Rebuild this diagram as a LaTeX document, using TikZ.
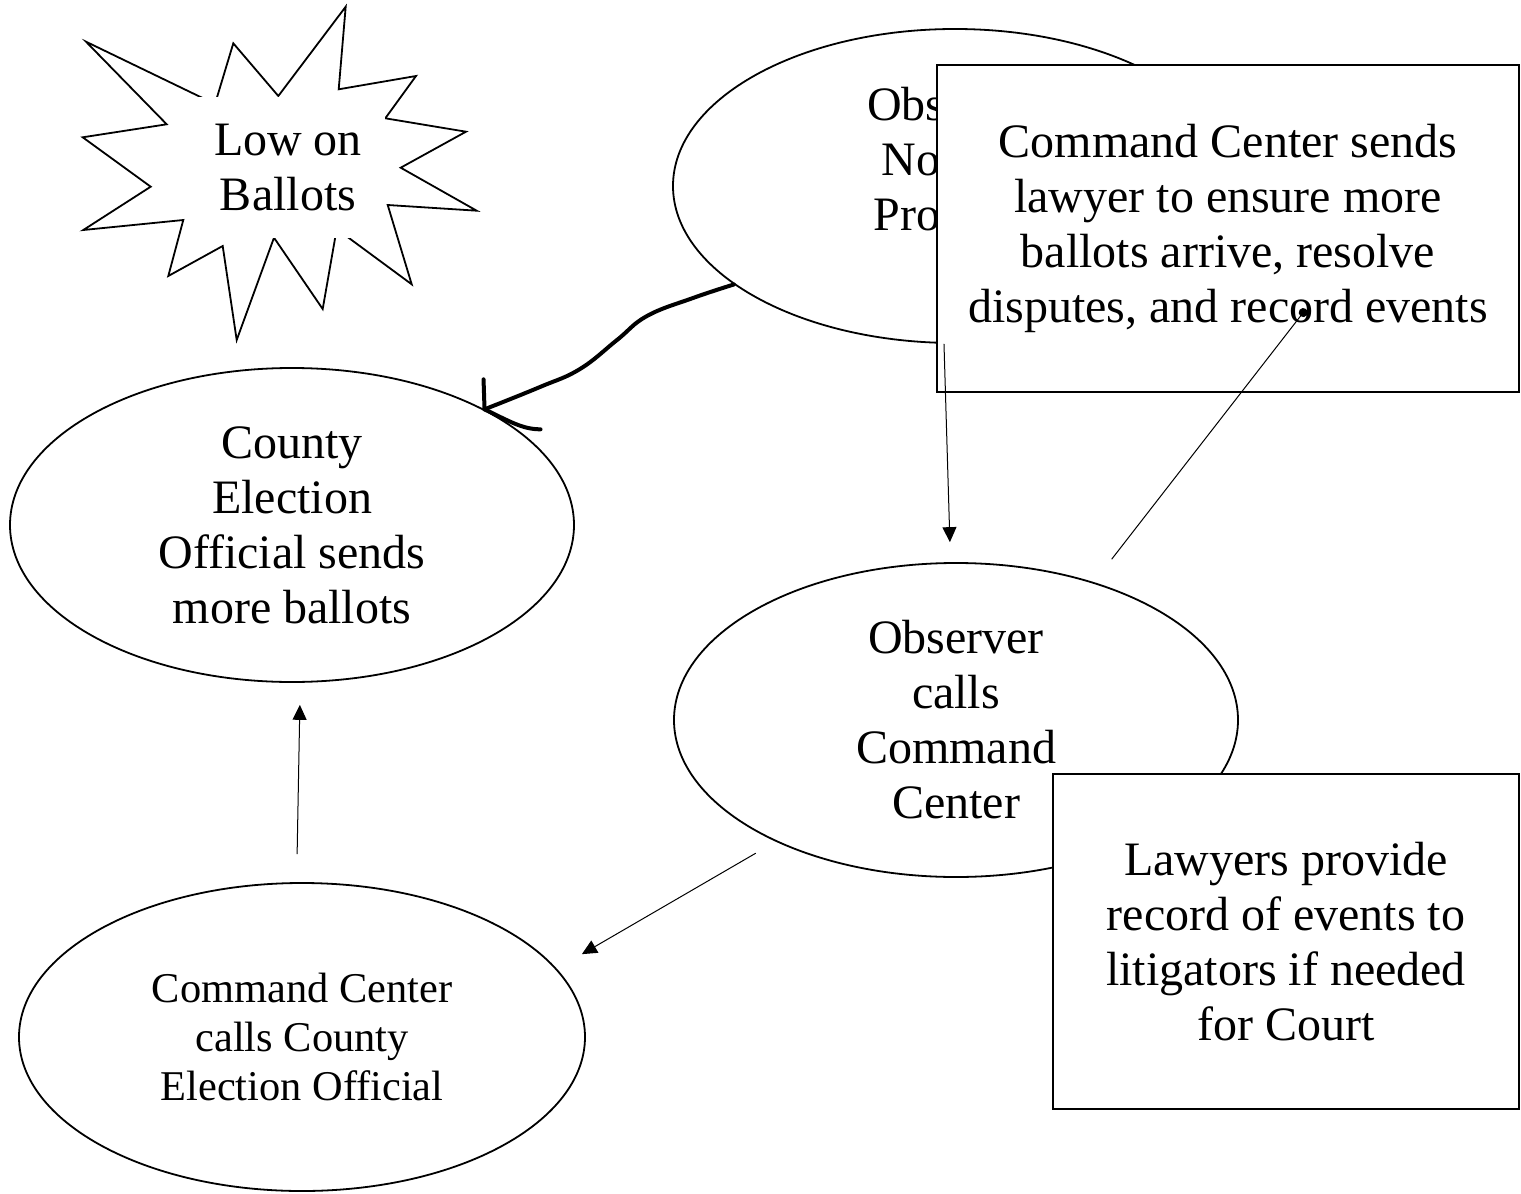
\documentclass[tikz,border=0pt]{standalone}
\usepackage{fontspec}
\setmainfont{Liberation Serif}
\usetikzlibrary{shapes.geometric,arrows.meta,calc}
\begin{document}
\begin{tikzpicture}[
            x=0.5pt, y=-0.5pt,
            bubble/.style={ellipse, draw=black, line width=0.9pt, fill=white, minimum width=282pt, minimum height=157pt, inner sep=0pt, align=center, font=\fontsize{24}{27.5}\selectfont},
            notebox/.style={rectangle, draw=black, line width=0.9pt, fill=white, inner sep=0pt, align=center, font=\fontsize{24}{27.5}\selectfont},
            flow/.style={-{Triangle[length=7.5pt,width=7pt]}, line width=0.5pt},
            scribble/.style={line width=2pt, line cap=round, line join=round},
        ]
            \useasboundingbox (0,0) rectangle (1521,1194);

            %Burst
            \draw[line width=0.9pt] (411.7,284.3) -- (336.7,229) -- (322.7,309) -- (274,237.7) -- (236.7,340) -- (222.7,246)
                -- (168.3,276) -- (183.3,220) -- (83.3,230) -- (150.7,186.7) -- (82.7,137.3) -- (166.7,124.3)
                -- (86,41.7) -- (215,104) -- (233.3,43.3) -- (278.3,96) -- (345.7,6.7) -- (338.7,89.3)
                -- (416,76) -- (385.3,118.3) -- (466,131.7) -- (400.7,167.7) -- (476.7,210.7) -- (387.7,205) -- cycle;
            \node[fill=white, minimum width=96.5pt, minimum height=70.5pt, inner sep=0pt, align=center, font=\fontsize{24}{27.5}\selectfont] (low) at (288,167.5) {Low on\\Ballots};

            %Nodes
            \node[bubble] (notices) at (955,186) {Observer\\Notices\\Problem\\\mbox{}};
            \node[bubble] (county) at (292,525) {County\\Election\\Official sends\\more ballots};
            \node[bubble] (calls) at (956,720) {Observer\\calls\\Command\\Center};
            \node[bubble, minimum width=283pt, minimum height=154pt, font=\fontsize{21.2}{24.5}\selectfont] (ccounty) at (302,1037) {Command Center\\calls County\\Election Official};

            \node[notebox, minimum width=291pt, minimum height=163.5pt] (sends) at (1228,228.5) {Command Center sends\\lawyer to ensure more\\ballots arrive, resolve\\disputes, and record events};
            \node[notebox, minimum width=233pt, minimum height=167.5pt] (court) at (1286,941.5) {Lawyers provide\\record of events to\\litigators if needed\\for Court};

            \coordinate (recdot) at (1306,309);
            \coordinate (tip) at (county.31);

            %Lines
            \draw[flow, shorten >=10pt] (notices.266) -- (calls.92);
            \draw[flow, shorten <=11.5pt, shorten >=14.5pt] (calls.214) -- (ccounty.15);
            \draw[flow, shorten <=14pt, shorten >=11pt] (ccounty.92) -- (county.273);
            \draw[line width=0.5pt, -{Circle[length=4.5pt]}, shorten <=14.5pt] (calls.45) -- (recdot);

            \draw[scribble] plot[smooth, tension=0.7] coordinates {(notices.204) (693,298) (647,316) (617,340) (580,369) (540,387) (tip)};
            \draw[scribble] ($(tip)+(-1,-30)$) -- (tip) .. controls ($(tip)+(25,12)$) and ($(tip)+(38,20)$) .. ($(tip)+(56,20)$);
        \end{tikzpicture}
\end{document}
